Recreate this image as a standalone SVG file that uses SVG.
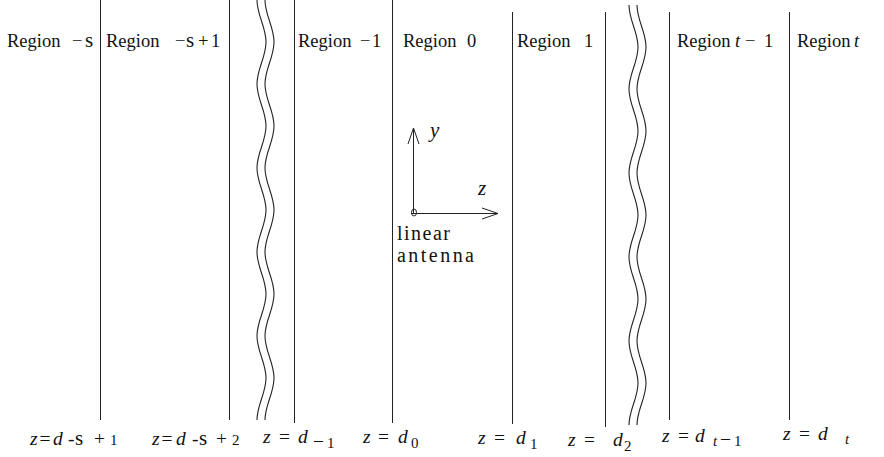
<svg xmlns="http://www.w3.org/2000/svg" xmlns:xlink="http://www.w3.org/1999/xlink" width="884" height="457" viewBox="0 0 884 457">
<style>
.ln{stroke:#222;stroke-width:1;fill:none}
.wv{stroke:#222;stroke-width:1.1;fill:none}
text{font-family:"Liberation Serif","Times New Roman",serif;font-size:18.5px;fill:#111}
.bl{font-size:19.5px}
.it{font-style:italic}
.sb{font-size:15px}
.big{font-size:21px}
.ant{font-size:20px}
</style>
<defs>
<path id="wave" d="M257,0 C257,15.3 266,26.7 266,42 S257,68.7 257,84 S266,110.7 266,126 S257,152.7 257,168 S266,194.7 266,210 S257,236.7 257,252 S266,278.7 266,294 S257,320.7 257,336 S266,362.7 266,378 S257,404.7 257,420"/>
<marker id="arr" viewBox="-18 -8 20 16" markerWidth="20" markerHeight="16" refX="0" refY="0" orient="auto" markerUnits="userSpaceOnUse">
<path d="M-16,-5.5 L0,0 L-16,5.5" fill="none" stroke="#222" stroke-width="1"/>
</marker>
</defs>
<rect width="884" height="457" fill="#fff"/>

<g id="boundaries">
<line class="ln" x1="100.5" y1="0" x2="100.5" y2="420"/>
<line class="ln" x1="229.5" y1="0" x2="229.5" y2="420"/>
<line class="ln" x1="294.5" y1="0" x2="294.5" y2="423"/>
<line class="ln" x1="392.5" y1="0" x2="392.5" y2="423"/>
<line class="ln" x1="512.5" y1="12" x2="512.5" y2="424"/>
<line class="ln" x1="605.5" y1="12" x2="605.5" y2="427"/>
<line class="ln" x1="669.5" y1="12" x2="669.5" y2="420"/>
<line class="ln" x1="789.5" y1="12" x2="789.5" y2="420"/>
</g>

<g id="breaks">
<use xlink:href="#wave" href="#wave" class="wv"/>
<use xlink:href="#wave" href="#wave" class="wv" transform="translate(8,0)"/>
<use xlink:href="#wave" href="#wave" class="wv" transform="translate(372,5)"/>
<use xlink:href="#wave" href="#wave" class="wv" transform="translate(380,5)"/>
</g>

<g id="region-labels">
<g id="region-ms"><text y="47"><tspan x="7">Region</tspan><tspan x="72">−</tspan><tspan x="85" class="big">s</tspan></text></g>
<g id="region-ms1"><text y="47"><tspan x="106">Region</tspan><tspan x="175">−</tspan><tspan x="186" class="big">s</tspan><tspan x="198">+</tspan><tspan x="211">1</tspan></text></g>
<g id="region-m1"><text y="47"><tspan x="298">Region</tspan><tspan x="360">−</tspan><tspan x="372">1</tspan></text></g>
<g id="region-0"><text y="47"><tspan x="403">Region</tspan><tspan x="467">0</tspan></text></g>
<g id="region-1"><text y="47"><tspan x="517">Region</tspan><tspan x="584">1</tspan></text></g>
<g id="region-tm1"><text y="47"><tspan x="677">Region</tspan><tspan x="735" class="it">t</tspan><tspan x="745">−</tspan><tspan x="764">1</tspan></text></g>
<g id="region-t"><text y="47"><tspan x="797">Region</tspan><tspan x="854" class="it">t</tspan></text></g>
</g>

<g id="antenna">
<ellipse cx="414" cy="212.5" rx="2.5" ry="3.5" fill="none" stroke="#222" stroke-width="1"/>
<text class="ant" y="240" x="397" textLength="53" lengthAdjust="spacing">linear</text>
<text class="ant" y="262" x="397" textLength="77" lengthAdjust="spacing">antenna</text>
</g>

<g id="connectors">
<line class="ln" x1="413.5" y1="213" x2="413.5" y2="128" marker-end="url(#arr)"/>
<line class="ln" x1="411" y1="213.5" x2="498" y2="213.5" marker-end="url(#arr)"/>
</g>

<g id="axis-labels">
<text x="430" y="137" class="big it">y</text>
<text x="478" y="195" class="big it">z</text>
</g>

<g id="boundary-labels">
<g id="lbl-ms1"><text class="bl" y="445"><tspan x="30" class="it">z</tspan><tspan x="39.5">=</tspan><tspan x="53" class="it">d</tspan><tspan x="68">-</tspan><tspan x="75" class="big">s</tspan><tspan x="94" class="bl">+</tspan><tspan x="110" class="sb">1</tspan></text></g>
<g id="lbl-ms2"><text class="bl" y="445"><tspan x="152" class="it">z</tspan><tspan x="161.5">=</tspan><tspan x="176" class="it">d</tspan><tspan x="192">-</tspan><tspan x="199" class="big">s</tspan><tspan x="216" class="bl">+</tspan><tspan x="232" class="sb">2</tspan></text></g>
<g id="lbl-m1"><text class="bl" y="443"><tspan x="263" class="it">z</tspan><tspan x="279">=</tspan><tspan x="298" class="it">d</tspan><tspan x="313" y="448">−</tspan><tspan x="327" y="448" class="sb">1</tspan></text></g>
<g id="lbl-0"><text class="bl" y="443"><tspan x="363" class="it">z</tspan><tspan x="378">=</tspan><tspan x="398" class="it">d</tspan><tspan x="411" y="448" class="sb">0</tspan></text></g>
<g id="lbl-1"><text class="bl" y="444"><tspan x="478" class="it">z</tspan><tspan x="494">=</tspan><tspan x="516" class="it">d</tspan><tspan x="530" y="449" class="sb">1</tspan></text></g>
<g id="lbl-2"><text class="bl" y="446"><tspan x="568" class="it">z</tspan><tspan x="584">=</tspan><tspan x="613" class="it">d</tspan><tspan x="624" y="451" class="sb">2</tspan></text></g>
<g id="lbl-tm1"><text class="bl" y="442"><tspan x="662" class="it">z</tspan><tspan x="678">=</tspan><tspan x="695" class="it">d</tspan><tspan x="713" y="446" class="sb it">t</tspan><tspan x="720" y="446">−</tspan><tspan x="734" y="446" class="sb">1</tspan></text></g>
<g id="lbl-t"><text class="bl" y="440"><tspan x="783" class="it">z</tspan><tspan x="799">=</tspan><tspan x="818" class="it">d</tspan><tspan x="845" y="444" class="sb it">t</tspan></text></g>
</g>
</svg>
